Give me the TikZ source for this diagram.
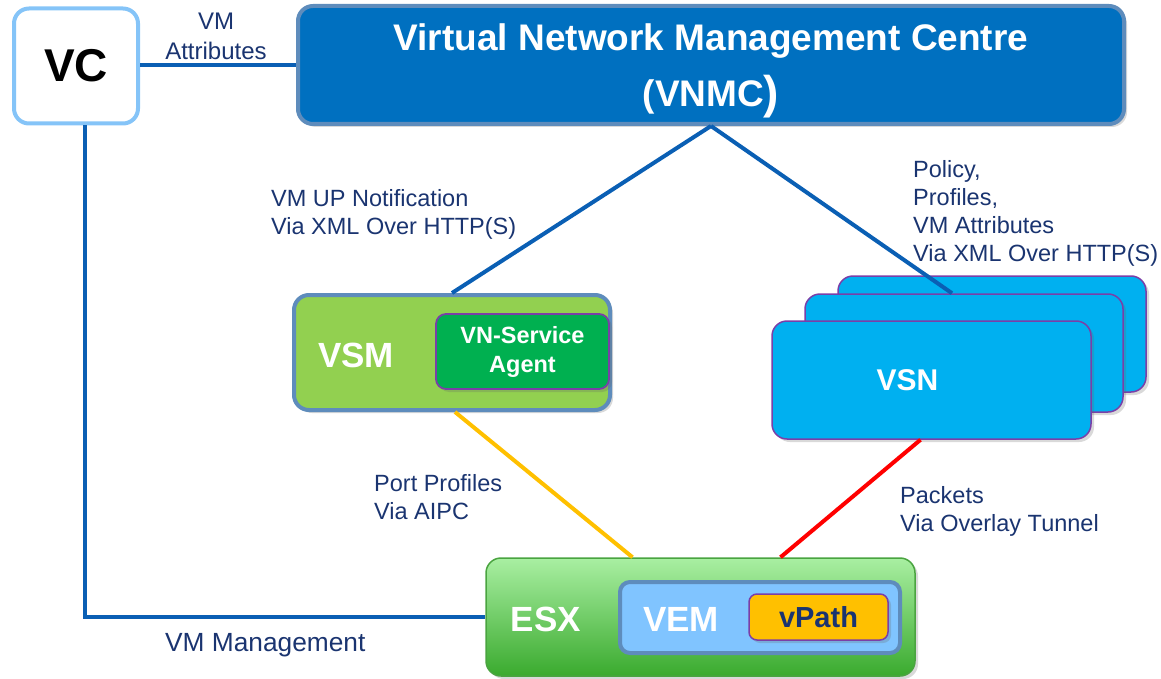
\documentclass[tikz,border=0pt]{standalone}
\usepackage{fontspec}
\setmainfont{Liberation Sans}
\usetikzlibrary{shadows}
\definecolor{linkblue}{HTML}{0A5FB4}
\definecolor{vcborder}{HTML}{85C4F8}
\definecolor{vnmcfill}{HTML}{0070C0}
\definecolor{boxborder}{HTML}{5E8CBC}
\definecolor{vsmfill}{HTML}{92D050}
\definecolor{agentfill}{HTML}{00B050}
\definecolor{purpleb}{HTML}{7A3FA8}
\definecolor{vsnfill}{HTML}{00B0F0}
\definecolor{esxborder}{HTML}{4AA440}
\definecolor{esxtop}{HTML}{A9EFA2}
\definecolor{esxbot}{HTML}{3AAA2E}
\definecolor{vemfill}{HTML}{80C4FF}
\definecolor{vpathfill}{HTML}{FFC000}
\definecolor{navy}{HTML}{1A3470}
\definecolor{ylink}{HTML}{FFC000}
\definecolor{rlink}{HTML}{FF0000}
\tikzset{
  box/.style={rounded corners=15pt, inner sep=0pt, align=center},
  softshadow/.style={drop shadow={shadow xshift=3pt, shadow yshift=-3pt, opacity=0.25, fill=black!60}},
  bigtxt/.style={font=\fontsize{35}{38}\selectfont\bfseries, text=white},
  lbl/.style={font=\fontsize{23.5}{28}\selectfont, text=navy, align=left, inner sep=0pt, anchor=north west},
  link/.style={line width=4pt, draw=linkblue},
}
\begin{document}
\begin{tikzpicture}[x=1pt,y=-1pt]
\useasboundingbox (0,0) rectangle (1161,679);
% VC
\node[box, draw=vcborder, line width=4pt, fill=white, minimum width=124pt, minimum height=115pt,
      font=\fontsize{46}{50}\selectfont\bfseries] (vc) at (76,66) {VC};
% VNMC
\node[box, draw=boxborder, line width=4pt, fill=vnmcfill, minimum width=826pt, minimum height=118pt,
      softshadow] (vnmc) at (711,65) {};
\node[font=\fontsize{37}{56}\selectfont\bfseries, text=white, align=center, inner sep=0pt] (vnmct) at (711,71)
      {Virtual Network Management Centre\\(VNMC{\fontsize{46}{56}\selectfont\raisebox{-2pt}{)}}};
% VSM
\node[box, draw=boxborder, line width=4pt, fill=vsmfill, minimum width=316pt, minimum height=115pt, softshadow] (vsm) at (452,352.5) {};
\node[bigtxt] (vsmt) at (356,355) {VSM};
\node[box, rounded corners=10pt, draw=purpleb, line width=1.8pt, fill=agentfill, minimum width=173pt, minimum height=75pt,
      font=\fontsize{23.5}{29}\selectfont\bfseries, text=white, softshadow] (agent) at (522.5,351.5) {VN-Service\\Agent};
% VSN stack
\node[box, draw=purpleb, line width=1.5pt, fill=vsnfill, minimum width=308pt, minimum height=116pt, softshadow] (vsnback) at (992,334) {};
\node[box, draw=purpleb, line width=1.5pt, fill=vsnfill, minimum width=318pt, minimum height=118pt, softshadow] (vsnmid) at (964,353) {};
\draw[link] (vnmc.south) -- ([xshift=-12pt]vsnmid.north);
\node[box, draw=purpleb, line width=1.5pt, fill=vsnfill, minimum width=319pt, minimum height=118pt, softshadow,
      font=\fontsize{30}{34}\selectfont\bfseries, text=white] (vsn) at (931.5,380) {\hspace*{-48pt}VSN};
% ESX
\node[box, draw=esxborder, line width=1.5pt, top color=esxtop, bottom color=esxbot, minimum width=429pt, minimum height=118pt, softshadow] (esx) at (700.5,617) {};
\node[bigtxt] (esxt) at (546,619) {ESX};
\node[box, rounded corners=10pt, draw=boxborder, line width=4pt, fill=vemfill, minimum width=280pt, minimum height=71pt] (vem) at (760,617.5) {};
\node[bigtxt] (vemt) at (681,619) {VEM};
\node[box, rounded corners=8pt, draw=purpleb, line width=1.5pt, fill=vpathfill, minimum width=139pt, minimum height=46pt,
      font=\fontsize{29}{32}\selectfont\bfseries, text=navy, softshadow] (vpath) at (818.5,617) {vPath};
% connectors
\draw[link] (vc.east |- 0,65) -- (vnmc.west |- 0,65);
\coordinate (vcdown) at ([xshift=9pt]vc.south);
\draw[link] (vcdown) |- (esx.west);
\draw[link] (vnmc.south) -- (vsm.north);
\draw[line width=4pt, draw=ylink] ([xshift=3pt]vsm.south) -- ([xshift=-68pt]esx.north);
\draw[line width=4pt, draw=rlink] ([xshift=-11pt]vsn.south) -- ([xshift=80pt]esx.north);
% labels
\node[lbl, align=center, anchor=north, font=\fontsize{24}{30}\selectfont] (lattr) at (216,13) {VM\\Attributes};
\node[lbl] (lup) at (271,189.5) {VM UP Notification\\Via XML Over HTTP(S)};
\node[lbl] (lpol) at (913,160.5) {Policy,\\Profiles,\\VM Attributes\\Via XML Over HTTP(S)};
\node[lbl] (lport) at (374,474) {Port Profiles\\Via AIPC};
\node[lbl] (lpack) at (900,486.5) {Packets\\Via Overlay Tunnel};
\node[lbl, font=\fontsize{26.3}{28}\selectfont] (lmgmt) at (165,633) {VM Management};
\end{tikzpicture}
\end{document}
